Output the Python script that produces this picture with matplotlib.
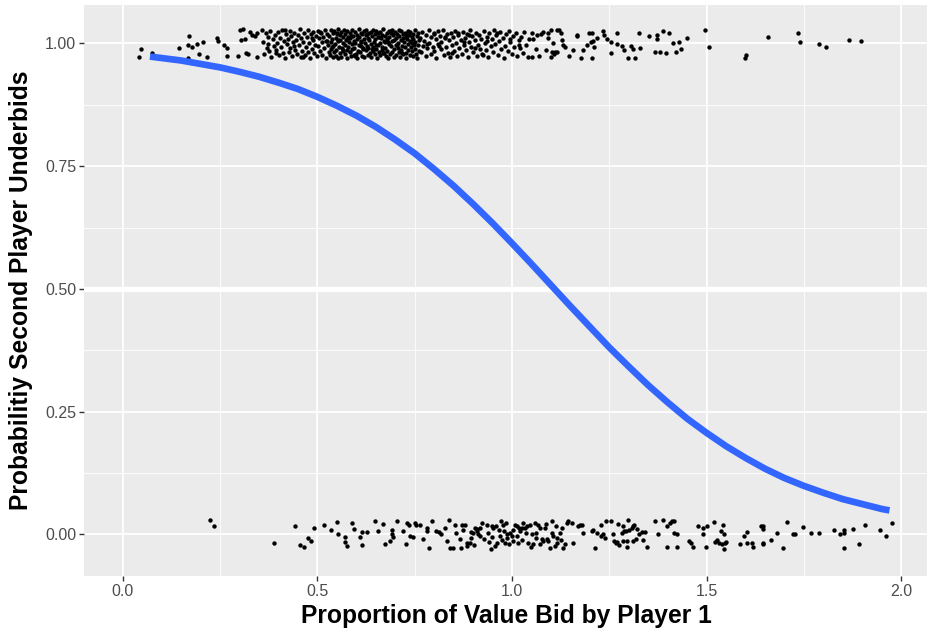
import matplotlib
matplotlib.use("Agg")
import matplotlib.pyplot as plt

plt.rcParams['font.family'] = ['Liberation Sans', 'DejaVu Sans']

# points where the second player underbid (y jittered around 1)
top_x = [
    0.042, 0.048, 0.076, 0.145, 0.168, 0.169, 0.168, 0.179, 0.191, 0.195,
    0.207, 0.217, 0.242, 0.245, 0.260, 0.269, 0.269, 0.296, 0.301, 0.305,
    0.309, 0.314, 0.318, 0.322, 0.326, 0.333, 0.339, 0.344, 0.346, 0.357,
    0.361, 0.364, 0.368, 0.371, 0.373, 0.377, 0.379, 0.382, 0.385, 0.388,
    0.390, 0.393, 0.396, 0.398, 0.401, 0.404, 0.406, 0.409, 0.411, 0.414,
    0.416, 0.419, 0.421, 0.424, 0.426, 0.429, 0.431, 0.433, 0.436, 0.438,
    0.441, 0.443, 0.445, 0.448, 0.450, 0.452, 0.455, 0.457, 0.459, 0.461,
    0.464, 0.466, 0.468, 0.470, 0.473, 0.475, 0.477, 0.479, 0.481, 0.484,
    0.486, 0.488, 0.490, 0.492, 0.494, 0.497, 0.499, 0.501, 0.503, 0.505,
    0.507, 0.509, 0.511, 0.513, 0.515, 0.517, 0.519, 0.521, 0.523, 0.525,
    0.527, 0.529, 0.372, 0.395, 0.418, 0.440, 0.463, 0.487, 0.508, 0.526,
    0.531, 0.532, 0.534, 0.535, 0.536, 0.538, 0.539, 0.540, 0.541, 0.543,
    0.544, 0.545, 0.547, 0.548, 0.549, 0.550, 0.552, 0.553, 0.554, 0.556,
    0.557, 0.558, 0.559, 0.561, 0.562, 0.563, 0.565, 0.566, 0.567, 0.568,
    0.570, 0.571, 0.572, 0.574, 0.575, 0.576, 0.577, 0.579, 0.580, 0.581,
    0.583, 0.584, 0.585, 0.586, 0.588, 0.589, 0.590, 0.592, 0.593, 0.594,
    0.595, 0.597, 0.598, 0.599, 0.601, 0.602, 0.603, 0.604, 0.606, 0.607,
    0.608, 0.610, 0.611, 0.612, 0.613, 0.615, 0.616, 0.617, 0.619, 0.620,
    0.621, 0.622, 0.624, 0.625, 0.626, 0.628, 0.629, 0.630, 0.631, 0.633,
    0.634, 0.635, 0.637, 0.638, 0.639, 0.640, 0.642, 0.643, 0.644, 0.646,
    0.647, 0.648, 0.649, 0.651, 0.652, 0.653, 0.655, 0.656, 0.657, 0.658,
    0.660, 0.661, 0.662, 0.664, 0.665, 0.666, 0.667, 0.669, 0.670, 0.671,
    0.673, 0.674, 0.675, 0.676, 0.678, 0.679, 0.680, 0.682, 0.683, 0.684,
    0.685, 0.687, 0.688, 0.689, 0.691, 0.692, 0.693, 0.694, 0.696, 0.697,
    0.698, 0.700, 0.701, 0.702, 0.703, 0.705, 0.706, 0.707, 0.709, 0.710,
    0.711, 0.712, 0.714, 0.715, 0.716, 0.718, 0.719, 0.720, 0.721, 0.723,
    0.724, 0.725, 0.727, 0.728, 0.729, 0.730, 0.732, 0.733, 0.734, 0.736,
    0.737, 0.738, 0.739, 0.741, 0.742, 0.743, 0.745, 0.746, 0.747, 0.748,
    0.750, 0.751, 0.752, 0.754, 0.755, 0.756, 0.758, 0.759, 0.760, 0.762,
    0.538, 0.551, 0.566, 0.579, 0.596, 0.611, 0.627, 0.641, 0.659, 0.672,
    0.689, 0.704, 0.717, 0.731, 0.744, 0.553, 0.587, 0.618, 0.650, 0.681,
    0.764, 0.767, 0.770, 0.772, 0.775, 0.778, 0.780, 0.783, 0.786, 0.788,
    0.791, 0.793, 0.796, 0.799, 0.801, 0.804, 0.806, 0.809, 0.811, 0.814,
    0.817, 0.819, 0.822, 0.825, 0.827, 0.830, 0.833, 0.835, 0.838, 0.841,
    0.843, 0.846, 0.849, 0.851, 0.854, 0.857, 0.860, 0.862, 0.865, 0.868,
    0.871, 0.873, 0.876, 0.879, 0.882, 0.884, 0.887, 0.890, 0.893, 0.896,
    0.898, 0.901, 0.904, 0.907, 0.910, 0.913, 0.916, 0.918, 0.921, 0.924,
    0.927, 0.930, 0.933, 0.936, 0.939, 0.942, 0.945, 0.948, 0.951, 0.954,
    0.957, 0.960, 0.963, 0.966, 0.970, 0.973, 0.976, 0.979, 0.982, 0.986,
    0.989, 0.992, 0.996, 0.999, 1.003, 1.006, 1.010, 1.013, 1.017, 1.021,
    1.024, 1.028, 1.032, 1.036, 1.040, 1.044, 0.782, 0.812, 0.845, 0.878,
    0.905, 0.935, 0.962, 0.994, 1.019, 0.800, 0.829, 0.861, 0.889, 0.925,
    1.051, 1.053, 1.065, 1.075, 1.079, 1.061, 1.051, 1.069, 1.087, 1.092,
    1.093, 1.100, 1.105, 1.104, 1.108, 1.100, 1.115, 1.122, 1.125, 1.129,
    1.132, 1.136, 1.117, 1.111, 1.147, 1.158, 1.166, 1.166, 1.177, 1.183,
    1.194, 1.199, 1.205, 1.203, 1.207, 1.211, 1.206, 1.218, 1.235, 1.237,
    1.243, 1.255, 1.254, 1.271, 1.271, 1.282, 1.288, 1.297, 1.306, 1.312,
    1.316, 1.326, 1.329, 1.353, 1.372, 1.373, 1.388, 1.404, 1.368, 1.380,
    1.396, 1.415, 1.422, 1.429, 1.434, 1.449, 1.496, 1.506, 1.601, 1.598,
    1.659, 1.736, 1.741, 1.789, 1.806, 1.866, 1.898,
]
top_y = [
    0.973, 0.988, 0.981, 0.990, 0.971, 1.014, 0.997, 0.993, 0.999, 0.978,
    1.002, 0.973, 1.010, 1.005, 0.997, 0.990, 0.975, 0.975, 1.027, 1.007,
    1.029, 1.009, 0.981, 0.978, 1.024, 1.017, 1.014, 0.973, 1.020, 1.027,
    1.003, 0.978, 1.021, 0.991, 1.012, 0.984, 1.026, 0.972, 1.008, 0.995,
    1.017, 0.986, 1.001, 1.024, 0.976, 1.011, 0.993, 1.028, 0.981, 1.005,
    0.970, 1.019, 0.998, 1.009, 0.983, 1.025, 0.990, 1.014, 0.975, 1.002,
    1.022, 0.987, 1.007, 0.979, 1.016, 0.996, 1.029, 0.973, 1.010, 0.985,
    1.003, 1.020, 0.977, 0.992, 1.013, 0.982, 1.027, 1.000, 0.971, 1.018,
    0.989, 1.006, 1.023, 0.980, 0.997, 1.015, 0.974, 1.026, 0.994, 1.010,
    0.984, 1.021, 1.002, 0.976, 1.012, 0.991, 1.028, 0.970, 1.005, 1.018,
    0.996, 0.982, 0.998, 0.981, 1.027, 0.994, 0.972, 1.011, 1.024, 1.004,
    1.014, 0.977, 1.002, 1.027, 0.988, 1.009, 0.972, 1.020, 0.995, 0.983,
    1.025, 0.999, 0.975, 1.011, 0.986, 1.018, 1.004, 0.970, 1.029, 0.992,
    0.980, 1.016, 1.007, 0.973, 1.023, 0.990, 1.012, 0.984, 1.001, 1.028,
    0.996, 0.978, 1.019, 1.006, 0.987, 1.026, 0.971, 1.013, 0.993, 1.003,
    1.021, 0.982, 1.010, 0.974, 0.998, 1.027, 0.989, 1.015, 0.976, 1.005,
    0.991, 1.024, 1.000, 0.979, 1.017, 0.970, 1.008, 0.985, 1.029, 0.997,
    1.012, 0.983, 1.022, 0.994, 1.004, 0.975, 1.019, 0.988, 1.009, 1.026,
    0.972, 1.001, 1.016, 0.986, 1.028, 0.995, 0.977, 1.011, 0.990, 1.021,
    1.006, 0.981, 1.023, 0.999, 0.973, 1.014, 0.992, 1.027, 0.984, 1.003,
    1.018, 0.978, 1.008, 0.989, 1.025, 0.971, 1.013, 0.996, 1.020, 0.982,
    1.000, 1.024, 0.976, 1.010, 0.987, 1.017, 0.993, 1.029, 0.980, 1.005,
    0.990, 1.015, 1.002, 0.974, 1.022, 0.985, 1.009, 0.970, 1.026, 0.998,
    1.012, 0.979, 1.020, 0.994, 1.004, 1.027, 0.983, 1.016, 0.972, 1.007,
    0.988, 1.023, 0.997, 1.011, 0.976, 1.019, 0.991, 1.001, 1.028, 0.982,
    1.014, 0.973, 1.006, 0.986, 1.025, 0.995, 1.010, 0.978, 1.018, 1.003,
    0.992, 1.021, 0.981, 1.013, 0.970, 1.008, 0.999, 1.026, 0.987, 1.016,
    1.004, 0.977, 1.024, 0.993, 1.012, 0.984, 1.019, 0.975, 1.009, 0.997,
    1.027, 0.989, 1.002, 0.979, 1.015, 0.971, 1.022, 0.996, 1.006, 0.985,
    0.993, 1.021, 0.987, 1.010, 0.975, 1.003, 1.019, 0.988, 1.012, 0.981,
    1.025, 0.996, 0.980, 1.017, 1.001, 1.007, 1.014, 0.991, 0.997, 1.002,
    1.011, 0.982, 1.024, 0.995, 1.004, 0.974, 1.017, 0.990, 1.027, 1.000,
    0.978, 1.013, 0.993, 1.021, 0.985, 1.008, 0.971, 1.025, 0.998, 1.015,
    0.988, 1.003, 1.028, 0.976, 1.010, 0.993, 1.019, 0.981, 1.006, 0.972,
    1.022, 0.996, 1.013, 0.984, 1.026, 1.001, 0.975, 1.016, 0.990, 1.007,
    0.979, 1.024, 0.997, 1.011, 0.986, 1.019, 0.972, 1.003, 1.028, 0.992,
    1.014, 0.983, 1.006, 1.022, 0.975, 0.996, 1.017, 0.989, 1.009, 0.978,
    1.025, 1.001, 0.986, 1.013, 0.973, 1.020, 0.994, 1.008, 0.982, 1.027,
    0.999, 1.016, 0.977, 1.005, 1.023, 0.988, 1.011, 0.971, 0.995, 1.018,
    0.984, 1.026, 1.002, 0.979, 1.014, 0.993, 1.021, 0.975, 1.007, 0.990,
    1.012, 0.981, 1.024, 0.997, 0.973, 1.009, 0.999, 0.994, 0.980, 1.002,
    0.991, 1.005, 1.020, 1.008, 0.996, 1.019, 1.012, 1.021, 1.017, 0.976,
    1.022, 1.009, 1.016, 1.018, 1.024, 0.988, 0.973, 0.975, 0.986, 1.010,
    1.020, 1.027, 1.000, 0.983, 0.978, 0.973, 1.027, 1.027, 1.022, 1.007,
    0.997, 0.993, 0.983, 0.983, 0.975, 0.986, 1.017, 1.014, 0.971, 0.986,
    0.997, 1.022, 1.020, 1.002, 1.005, 0.993, 0.971, 1.010, 1.026, 1.017,
    1.008, 1.002, 0.980, 1.022, 0.998, 0.995, 0.986, 0.971, 0.995, 0.988,
    0.971, 1.022, 0.990, 1.014, 1.017, 1.009, 1.026, 1.022, 0.982, 0.982,
    0.981, 1.001, 0.983, 1.003, 0.988, 1.010, 1.028, 0.993, 0.977, 0.971,
    1.012, 1.020, 1.002, 0.999, 0.993, 1.007, 1.005,
]

# points where the second player did not underbid (y jittered around 0)
bot_x = [
    0.224, 0.234, 0.388, 0.442, 0.455, 0.465, 0.477, 0.485, 0.491, 0.517,
    0.536, 0.551, 0.554, 0.572, 0.572, 0.575, 0.590, 0.594, 0.609, 0.616,
    0.616, 0.628, 0.649, 0.657, 0.670, 0.693, 0.693, 0.695, 0.686, 0.675,
    0.705,
    0.719, 0.728, 0.731, 0.736, 0.738, 0.746, 0.751, 0.753, 0.765, 0.772,
    0.781, 0.782, 0.787, 0.795, 0.806, 0.813, 0.817, 0.828, 0.832, 0.839,
    0.842, 0.848, 0.853, 0.856, 0.866, 0.868, 0.871, 0.875, 0.879, 0.884,
    0.885, 0.892, 0.894, 0.896, 0.901, 0.905, 0.909, 0.913, 0.918, 0.919,
    0.922, 0.935, 0.942, 0.945, 0.948, 0.952, 0.959, 0.961, 0.969, 0.973,
    0.978, 0.980, 0.982, 0.987, 0.988, 0.995, 0.999, 1.002, 1.008, 1.012,
    1.016, 1.019, 1.021, 1.025, 1.029, 1.033, 1.038, 1.042, 1.046, 1.051,
    1.055, 1.059, 1.063, 1.067, 1.072, 1.076, 1.080, 1.085, 1.089, 1.093,
    1.097, 1.102, 1.104, 1.106, 1.110, 1.115, 1.116, 1.123, 1.128, 1.132,
    1.136, 1.141, 1.145, 1.154, 1.158, 1.171, 1.175, 1.179, 1.183, 1.205,
    1.209, 1.213, 1.218,
    0.903, 0.911, 0.927, 0.938, 0.950, 0.957, 0.966, 0.975, 0.984, 0.993,
    1.004, 1.014, 1.027, 1.036, 1.049, 1.061, 1.071, 1.087, 1.112, 1.126,
    1.230, 1.230, 1.235, 1.239, 1.242, 1.254, 1.260, 1.262, 1.267, 1.271,
    1.273, 1.276, 1.282, 1.285, 1.286, 1.288, 1.293, 1.295, 1.296, 1.299,
    1.302, 1.308, 1.310, 1.312, 1.314, 1.319, 1.322, 1.327, 1.333, 1.338,
    1.342, 1.346, 1.368, 1.376, 1.387, 1.398, 1.399, 1.406, 1.411, 1.416,
    1.416, 1.423, 1.425, 1.456, 1.459, 1.464, 1.479, 1.490, 1.492, 1.500,
    1.499, 1.519, 1.522, 1.526, 1.533, 1.536, 1.539, 1.542, 1.545, 1.545,
    1.548, 1.550, 1.586, 1.595, 1.603, 1.603, 1.616, 1.619, 1.640, 1.644,
    1.646, 1.646, 1.646, 1.666, 1.680, 1.697, 1.708, 1.722, 1.728,
    1.749, 1.768, 1.790, 1.828, 1.843, 1.853, 1.853, 1.853, 1.876, 1.893,
    1.907, 1.946, 1.960, 1.977,
]
bot_y = [
    0.029, 0.017, -0.017, 0.018, -0.022, -0.025, -0.007, -0.014, 0.014, 0.020,
    0.010, 0.025, 0.002, -0.005, -0.016, -0.024, 0.024, 0.012, -0.005, 0.005,
    -0.022, 0.005, 0.027, 0.007, 0.022, 0.009, 0.001, -0.005, -0.014, -0.020,
    0.027,
    0.007, -0.020, 0.024, 0.020, -0.003, -0.005, 0.024, 0.020, 0.020, -0.010,
    0.007, 0.014, -0.027, 0.027, 0.007, 0.005, 0.000, 0.014, -0.014, 0.029,
    -0.027, -0.027, 0.020, 0.003, -0.010, -0.027, 0.020, 0.010, 0.020, -0.017,
    -0.024, -0.017, 0.005, -0.007, 0.003, 0.014, 0.007, 0.000, 0.014, -0.003,
    0.024, 0.020, -0.015, -0.029, 0.017, 0.014, 0.018, -0.017, -0.003, 0.027,
    0.020, 0.007, -0.017, 0.000, -0.007, 0.003, -0.003, -0.014, 0.020, 0.017,
    -0.017, 0.014, 0.007, 0.014, 0.024, 0.014, 0.017, -0.017, 0.020, 0.000,
    -0.020, 0.024, 0.003, 0.020, 0.014, -0.010, -0.014, 0.014, -0.010, -0.014,
    -0.027, 0.027, 0.003, -0.003, -0.024, -0.007, -0.017, 0.003, 0.014, -0.027,
    -0.020, 0.024, 0.027, 0.024, -0.017, 0.017, 0.020, 0.020, 0.003, 0.007,
    0.010, -0.027, 0.003,
    -0.021, 0.011, -0.009, 0.004, -0.006, -0.024, 0.010, -0.011, 0.023, -0.020,
    0.009, -0.004, -0.012, 0.004, -0.025, -0.008, -0.019, 0.022, 0.018, -0.012,
    0.020, -0.003, 0.000, -0.007, 0.027, 0.027, 0.000, -0.014, -0.017, -0.015,
    0.022, -0.022, 0.003, -0.014, 0.018, 0.007, 0.007, -0.025, -0.014, 0.029,
    0.010, 0.014, -0.014, 0.018, 0.020, -0.010, 0.012, 0.002, 0.005, -0.012,
    0.005, -0.025, 0.027, 0.000, 0.029, -0.025, 0.018, 0.024, 0.027, 0.027,
    0.003, -0.025, 0.000, -0.014, -0.017, -0.025, 0.017, 0.002, 0.014, 0.017,
    -0.025, 0.025, -0.016, -0.012, -0.017, 0.007, -0.020, 0.020, 0.000, -0.029,
    -0.017, -0.016, -0.020, -0.003, 0.005, -0.018, -0.017, -0.025, 0.017, 0.018,
    0.012, -0.017, -0.020, -0.012, 0.003, -0.027, 0.025, 0.000, 0.002,
    0.015, 0.003, 0.003, 0.009, 0.001, 0.009, 0.003, -0.027, 0.012, -0.020,
    0.020, 0.009, -0.003, 0.023,
]

# fitted logistic curve
curve_x = [0.07, 0.10, 0.15, 0.20, 0.25, 0.30, 0.35, 0.40, 0.45, 0.50,
           0.55, 0.60, 0.65, 0.70, 0.75, 0.80, 0.85, 0.90, 0.95, 1.00,
           1.05, 1.10, 1.15, 1.20, 1.25, 1.30, 1.35, 1.40, 1.45, 1.50,
           1.55, 1.60, 1.65, 1.70, 1.75, 1.80, 1.85, 1.90, 1.95, 1.97]
curve_p = [0.973, 0.970, 0.965, 0.958, 0.951, 0.942, 0.932, 0.920, 0.907, 0.891,
           0.873, 0.853, 0.830, 0.804, 0.776, 0.744, 0.710, 0.673, 0.634, 0.593,
           0.551, 0.508, 0.465, 0.423, 0.381, 0.342, 0.304, 0.269, 0.236, 0.207,
           0.180, 0.156, 0.134, 0.115, 0.099, 0.085, 0.072, 0.062, 0.052, 0.049]

x_ticks = [0.0, 0.5, 1.0, 1.5, 2.0]
x_labels = ['0.0', '0.5', '1.0', '1.5', '2.0']
y_ticks = [0.0, 0.25, 0.5, 0.75, 1.0]
y_labels = ['0.00', '0.25', '0.50', '0.75', '1.00']

fig = plt.figure(figsize=(9.28, 6.28), dpi=100)
ax = fig.add_axes([84 / 928, 52 / 628, 1 - 84 / 928, 571 / 628])
ax.set_facecolor('#EBEBEB')
for s in ax.spines.values():
    s.set_visible(False)

ax.set_xlim(-0.0995, 2.069)
ax.set_ylim(-0.0845, 1.078)

ax.set_xticks(x_ticks)
ax.set_xticklabels(x_labels)
ax.set_yticks(y_ticks)
ax.set_yticklabels(y_labels)
ax.set_xticks([0.25, 0.75, 1.25, 1.75], minor=True)
ax.set_yticks([0.125, 0.375, 0.625, 0.875], minor=True)
ax.grid(which='major', color='white', linewidth=1.3)
ax.grid(which='minor', color='white', linewidth=0.6)
ax.set_axisbelow(True)
ax.tick_params(which='major', length=3.5, width=1, color='#333333',
               labelsize=11.5, labelcolor='#4D4D4D', pad=2)
ax.tick_params(which='minor', length=0)

ax.axhline(0.5, color='white', linewidth=3.8, zorder=1.5)
ax.scatter(top_x, top_y, s=10, color='black', linewidths=0, zorder=2)
ax.scatter(bot_x, bot_y, s=10, color='black', linewidths=0, zorder=2)
ax.plot(curve_x, curve_p, color='#3366FF', linewidth=4.8,
        solid_capstyle='butt', zorder=3)

ax.set_xlabel('Proportion of Value Bid by Player 1', fontsize=17.7,
              fontweight='bold', labelpad=4)
ax.set_ylabel('Probabilitiy Second Player Underbids', fontsize=17.7,
              fontweight='bold', labelpad=9)

fig.savefig('out.png', dpi=100)
